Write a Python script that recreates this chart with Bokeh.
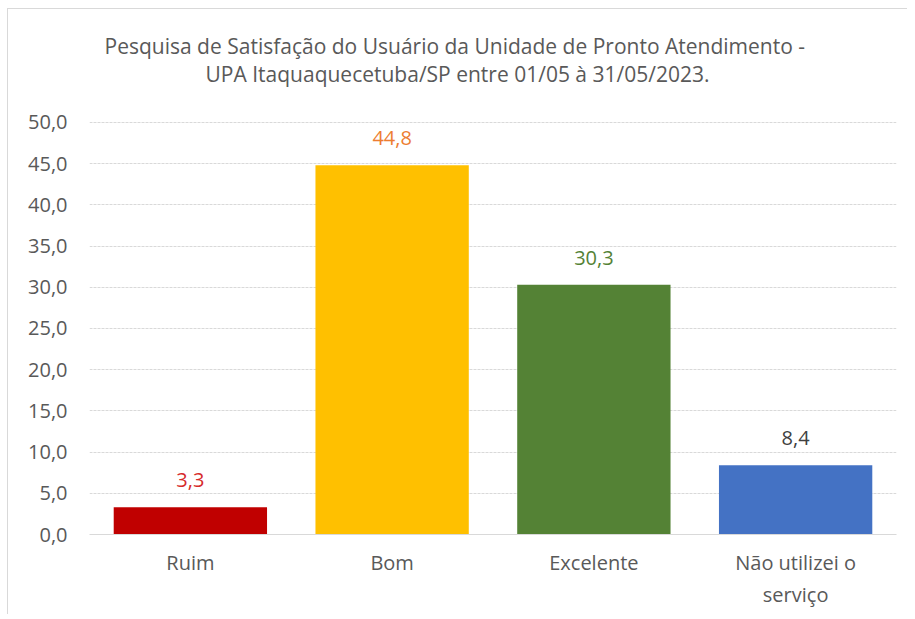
from bokeh.plotting import figure
from bokeh.models import Range1d, FixedTicker, Label, ColumnDataSource
from bokeh.core.properties import value
from bokeh.embed import file_html
from bokeh.resources import INLINE

categories = ["Ruim", "Bom", "Excelente", "Não utilizei o\nserviço"]
values = [3.3, 44.8, 30.3, 8.4]
value_labels = ["3,3", "44,8", "30,3", "8,4"]
bar_colors = ["#C00000", "#FFC000", "#548235", "#4472C4"]
label_colors = ["#D62B2B", "#ED7D31", "#548235", "#404040"]
y_ticks = [0, 5, 10, 15, 20, 25, 30, 35, 40, 45, 50]
y_tick_labels = ["0,0", "5,0", "10,0", "15,0", "20,0", "25,0", "30,0", "35,0", "40,0", "45,0", "50,0"]
title_lines = ["Pesquisa de Satisfação do Usuário da Unidade de Pronto Atendimento  -",
               "UPA Itaquaquecetuba/SP entre 01/05 à 31/05/2023."]

FONT = "Open Sans"
GREY = "#595959"
FS = "20px"

src = ColumnDataSource(dict(cat=categories, val=values, lab=value_labels,
                            bc=bar_colors, lc=label_colors))

# frame spans the full top of the chart area (invisible), axis ticks stop at 50
p = figure(x_range=categories, y_range=Range1d(0, 63.7), width=900, height=606,
           output_backend="svg", toolbar_location=None, tools="",
           min_border_left=81, min_border_right=12, min_border_top=0, min_border_bottom=81)
p.styles = {"margin-left": "7px", "margin-top": "8px",
            "border-top": "1px solid #D9D9D9", "border-left": "1px solid #D9D9D9"}
p.outline_line_color = None
p.background_fill_color = "white"
p.border_fill_color = "white"

p.vbar(x="cat", top="val", width=0.76, source=src, fill_color="bc", line_color=None)
p.text(x="cat", y="val", text="lab", text_color="lc", source=src,
       text_align="center", text_baseline="bottom", y_offset=-20,
       text_font=value(FONT), text_font_size=FS)

p.yaxis.ticker = FixedTicker(ticks=y_ticks)
p.yaxis.major_label_overrides = {t: l for t, l in zip(y_ticks, y_tick_labels)}
p.yaxis.axis_line_color = None
p.yaxis.major_tick_line_color = None
p.yaxis.minor_tick_line_color = None
p.yaxis.major_label_text_font = FONT
p.yaxis.major_label_text_font_size = FS
p.yaxis.major_label_text_color = GREY
p.yaxis.major_label_standoff = 16

p.xaxis.axis_line_color = "#D9D9D9"
p.xaxis.major_tick_line_color = None
p.xaxis.minor_tick_line_color = None
p.xaxis.major_label_text_font = FONT
p.xaxis.major_label_text_font_size = FS
p.xaxis.major_label_text_color = GREY
p.xaxis.major_label_standoff = 8

p.xgrid.grid_line_color = None
p.ygrid.grid_line_color = "#D9D9D9"
p.ygrid.grid_line_dash = "3 1"

for i, line in enumerate(title_lines):
    p.add_layout(Label(x=368, y=489 - i * 28, x_units="screen", y_units="screen",
                       text=line, text_align="center", text_baseline="middle",
                       text_font=FONT, text_font_size="21px", text_color=GREY))

open("out.html", "w").write(file_html(p, INLINE))
